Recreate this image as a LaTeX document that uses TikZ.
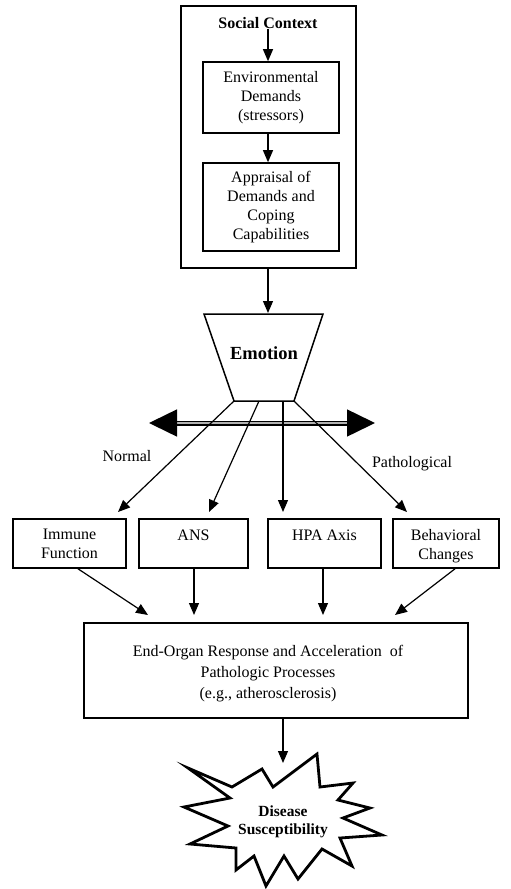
\documentclass[tikz,border=0pt]{standalone}
\usepackage{fontspec}
\setmainfont{Liberation Serif}
\usetikzlibrary{arrows.meta}

\begin{document}
\begin{tikzpicture}[x=1pt,y=-1pt,
  box/.style={draw, line width=1.6pt, inner sep=0pt},
  lbl/.style={font=\fontsize{16}{19}\selectfont, align=center, inner sep=0pt},
  bold/.style={font=\fontsize{16}{19}\selectfont\bfseries, align=center, inner sep=0pt},
  arr/.style={line width=1.2pt, -{Triangle[length=12pt,width=10pt]}},
]
\useasboundingbox (0,0) rectangle (511,889);

% social context frame with its two inner boxes
\node[box, minimum width=175pt, minimum height=262pt] (ctx) at (268.5,137) {};
\node[bold] (social) at (268,23) {Social Context};
\node[box, minimum width=136pt, minimum height=71pt, lbl] (env) at (271,97.5)
  {Environmental\\Demands\\(stressors)};
\node[box, minimum width=136pt, minimum height=88pt, lbl] (appr) at (271,207)
  {Appraisal of\\Demands and\\Coping\\Capabilities};
\draw[arr] (social.south) -- (social.south |- env.north);
\draw[arr] (env.south -| social) -- (appr.north -| social);

% emotion funnel
\coordinate (tl) at (204,314);
\coordinate (tr) at (323,314);
\coordinate (br) at (294,401);
\coordinate (bl) at (234,401);
\coordinate (emotop) at (268,313);
\draw[line width=1.5pt, line join=miter] (tl) -- (tr) -- (br) -- (bl) -- cycle;
\node[font=\fontsize{18.5}{22}\selectfont\bfseries, inner sep=0pt] (emotion) at (264,353) {Emotion};
\draw[arr] (ctx.south -| social) -- (emotop);

% normal / pathological axis
\coordinate (nl) at (149,423);
\coordinate (pr) at (375,423);
\draw[line width=1.5pt, double=black!30, double distance=2pt,
  {Triangle[length=28pt,width=27pt]}-{Triangle[length=28pt,width=27pt]}] (nl) -- (pr);
\node[lbl] (normal) at (127,456) {Normal};
\node[lbl] (patho) at (412,464) {Pathological};

% response systems
\node[box, minimum width=113pt, minimum height=49pt] (imm) at (69.5,543.5) {};
\node[box, minimum width=109pt, minimum height=49pt] (ans) at (193.5,543.5) {};
\node[box, minimum width=113pt, minimum height=49pt] (hpa) at (324.5,543.5) {};
\node[box, minimum width=106pt, minimum height=49pt] (beh) at (446,543.5) {};
\node[lbl, anchor=north] at ([yshift=-11pt]imm.north) {Immune\\Function};
\node[lbl, anchor=north] at ([yshift=-11pt]ans.north) {ANS};
\node[lbl, anchor=north] at ([yshift=-11pt]hpa.north) {HPA Axis};
\node[lbl, anchor=north] at ([yshift=-11pt]beh.north) {Behavioral\\Changes};

\coordinate (e2) at (259,401);
\coordinate (e3) at (283,401);
\coordinate (t1) at (118,512);
\coordinate (t2) at (209,512);
\coordinate (t3) at (283,512);
\coordinate (t4) at (407,512);
\draw[arr] (bl) -- (t1);
\draw[arr] (e2) -- (t2);
\draw[arr] (e3) -- (t3);
\draw[arr] (br) -- (t4);

% end-organ box
\node[box, minimum width=384pt, minimum height=95pt] (organ) at (276,670.5) {};
\node[font=\fontsize{16}{21}\selectfont, align=center, inner sep=0pt] (organtxt) at (268,674)
  {End-Organ Response and Acceleration\ \ of\\Pathologic Processes\\(e.g., atherosclerosis)};

\coordinate (u1) at (148,615);
\coordinate (u2) at (194,615);
\coordinate (u3) at (323,615);
\coordinate (u4) at (395,615);
\draw[arr] (imm.south -| 78,0) -- (u1);
\draw[arr] (ans.south -| u2) -- (u2);
\draw[arr] (hpa.south -| u3) -- (u3);
\draw[arr] (beh.south -| 455,0) -- (u4);

% disease susceptibility burst
\draw[line width=2.8pt, line join=miter, miter limit=20]
  (188,768) -- (232,787) -- (262,769) -- (273,787) -- (317,754) -- (320,787)
  -- (353,783) -- (338,800) -- (370,808) -- (343,818) -- (382,835) -- (340,838)
  -- (352,866) -- (322,849) -- (298,879) -- (284,856) -- (266,886) -- (254,856)
  -- (236,870) -- (236,848) -- (190,844) -- (228,826) -- (184,807) -- (230,798)
  -- cycle;
\node[font=\fontsize{15.5}{18}\selectfont\bfseries, align=center, inner sep=0pt] (disease) at (283,822)
  {Disease\\Susceptibility};
\coordinate (startop) at (283,763);
\draw[arr] (organ.south -| startop) -- (startop);
\end{tikzpicture}
\end{document}
